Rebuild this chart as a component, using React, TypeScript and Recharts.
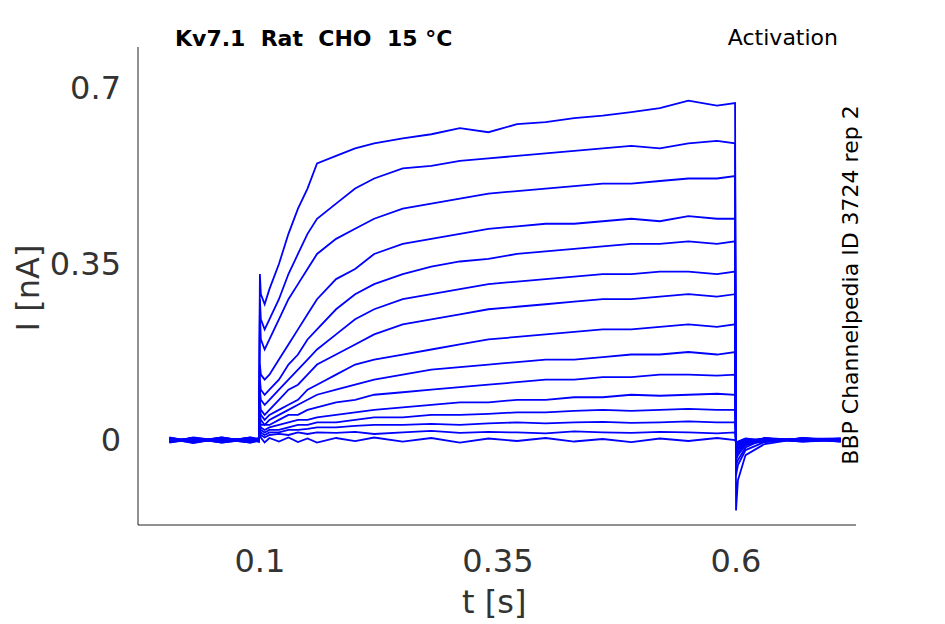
import { LineChart, Line, XAxis, YAxis } from "recharts";

const times = [
  0.005, 0.03, 0.06, 0.09, 0.099, 0.1, 0.101, 0.105, 0.11, 0.12, 0.13, 0.14, 0.15, 0.16, 0.18, 0.2, 0.22, 0.25,
  0.28, 0.31, 0.34, 0.37, 0.4, 0.43, 0.46, 0.49, 0.52, 0.55, 0.58, 0.599, 0.6, 0.602, 0.61, 0.63, 0.67, 0.71,
];

const traces: number[][] = [
  [0.003, -0.006, 0.004, -0.003, 0.001, 0.33, 0.29, 0.27, 0.3, 0.35, 0.41, 0.46, 0.5, 0.55, 0.565, 0.58, 0.59, 0.6, 0.608, 0.62, 0.612, 0.628, 0.632, 0.64, 0.645, 0.652, 0.66, 0.675, 0.665, 0.67, -0.14, -0.08, -0.03, -0.008, 0.004, -0.002],
  [-0.004, 0.005, -0.002, 0.004, -0.001, 0.28, 0.24, 0.22, 0.24, 0.28, 0.33, 0.37, 0.41, 0.44, 0.47, 0.5, 0.52, 0.54, 0.545, 0.555, 0.56, 0.565, 0.57, 0.575, 0.58, 0.585, 0.58, 0.59, 0.595, 0.59, -0.07, -0.05, -0.02, -0.004, 0.003, 0.001],
  [0.002, -0.003, 0.005, -0.004, 0.002, 0.25, 0.2, 0.18, 0.2, 0.24, 0.28, 0.31, 0.34, 0.37, 0.4, 0.42, 0.44, 0.46, 0.47, 0.48, 0.49, 0.495, 0.5, 0.505, 0.51, 0.51, 0.515, 0.52, 0.52, 0.525, -0.05, -0.04, -0.015, 0.003, -0.003, 0.002],
  [-0.003, 0.004, -0.005, 0.002, 0.0, 0.15, 0.13, 0.12, 0.13, 0.16, 0.19, 0.22, 0.25, 0.28, 0.32, 0.34, 0.37, 0.39, 0.4, 0.41, 0.42, 0.425, 0.43, 0.43, 0.435, 0.44, 0.435, 0.445, 0.44, 0.44, -0.04, -0.03, -0.01, 0.002, -0.002, 0.003],
  [0.004, -0.002, 0.002, -0.005, 0.001, 0.12, 0.1, 0.09, 0.1, 0.12, 0.15, 0.17, 0.2, 0.22, 0.26, 0.29, 0.31, 0.33, 0.345, 0.355, 0.36, 0.37, 0.375, 0.38, 0.385, 0.39, 0.39, 0.395, 0.39, 0.395, -0.035, -0.025, -0.01, -0.002, 0.003, -0.001],
  [-0.002, 0.003, -0.004, 0.005, -0.002, 0.1, 0.08, 0.07, 0.08, 0.1, 0.12, 0.14, 0.16, 0.18, 0.21, 0.24, 0.26, 0.28, 0.29, 0.3, 0.31, 0.315, 0.32, 0.325, 0.33, 0.33, 0.335, 0.335, 0.33, 0.335, -0.03, -0.02, -0.008, 0.003, -0.002, 0.002],
  [0.005, -0.004, 0.003, -0.002, 0.003, 0.08, 0.06, 0.05, 0.06, 0.08, 0.1, 0.11, 0.13, 0.15, 0.17, 0.19, 0.21, 0.23, 0.24, 0.25, 0.26, 0.265, 0.27, 0.275, 0.28, 0.28, 0.285, 0.29, 0.285, 0.29, -0.025, -0.018, -0.006, -0.003, 0.002, -0.003],
  [-0.005, 0.002, -0.003, 0.004, -0.001, 0.06, 0.05, 0.04, 0.05, 0.06, 0.07, 0.08, 0.1, 0.11, 0.13, 0.15, 0.16, 0.17, 0.18, 0.19, 0.2, 0.205, 0.21, 0.215, 0.22, 0.22, 0.225, 0.23, 0.225, 0.23, -0.02, -0.015, -0.005, 0.004, -0.001, 0.002],
  [0.002, -0.005, 0.004, -0.003, 0.002, 0.05, 0.04, 0.03, 0.04, 0.05, 0.06, 0.07, 0.08, 0.09, 0.1, 0.11, 0.12, 0.13, 0.14, 0.145, 0.15, 0.155, 0.16, 0.16, 0.165, 0.17, 0.17, 0.175, 0.17, 0.175, -0.018, -0.012, -0.004, -0.002, 0.003, -0.001],
  [-0.003, 0.004, -0.002, 0.003, -0.004, 0.04, 0.03, 0.03, 0.03, 0.04, 0.05, 0.05, 0.06, 0.065, 0.075, 0.08, 0.09, 0.095, 0.1, 0.105, 0.11, 0.115, 0.12, 0.12, 0.125, 0.125, 0.13, 0.13, 0.128, 0.13, -0.015, -0.01, -0.003, 0.003, -0.002, 0.001],
  [0.004, -0.003, 0.005, -0.004, 0.001, 0.03, 0.025, 0.02, 0.025, 0.03, 0.035, 0.04, 0.04, 0.045, 0.05, 0.055, 0.06, 0.065, 0.07, 0.075, 0.075, 0.08, 0.08, 0.085, 0.085, 0.09, 0.088, 0.09, 0.092, 0.09, -0.012, -0.008, -0.002, -0.003, 0.002, 0.003],
  [-0.002, 0.003, -0.005, 0.002, 0.003, 0.025, 0.02, 0.015, 0.02, 0.02, 0.025, 0.03, 0.03, 0.035, 0.035, 0.04, 0.045, 0.045, 0.05, 0.05, 0.052, 0.055, 0.055, 0.058, 0.06, 0.058, 0.06, 0.062, 0.06, 0.06, -0.01, -0.006, -0.002, 0.002, -0.003, 0.0],
  [0.003, -0.004, 0.002, -0.005, -0.002, 0.02, 0.015, 0.01, 0.015, 0.015, 0.02, 0.02, 0.022, 0.025, 0.025, 0.028, 0.03, 0.03, 0.032, 0.03, 0.033, 0.035, 0.033, 0.035, 0.036, 0.034, 0.035, 0.037, 0.035, 0.035, -0.008, -0.005, -0.001, 0.003, -0.002, 0.002],
  [-0.004, 0.002, -0.003, 0.005, 0.002, 0.015, 0.01, 0.005, 0.01, 0.012, 0.01, 0.015, 0.012, 0.015, 0.014, 0.016, 0.012, 0.015, 0.018, 0.014, 0.016, 0.015, 0.013, 0.017, 0.015, 0.014, 0.016, 0.015, 0.013, 0.015, -0.006, -0.004, 0.002, -0.002, 0.003, -0.002],
  [0.001, -0.003, 0.004, -0.002, 0.004, 0.01, 0.005, -0.005, 0.004, -0.003, 0.005, -0.004, 0.003, -0.005, 0.004, -0.002, 0.005, -0.003, 0.004, -0.005, 0.003, -0.002, 0.004, -0.003, 0.002, -0.004, 0.003, -0.002, 0.004, 0.0, -0.005, -0.003, 0.003, -0.001, 0.002, -0.003],
];

const xTicks = [0.1, 0.35, 0.6];
const yTicks = [0, 0.35, 0.7];

const data = times.map((t, i) => {
  const row: Record<string, number> = { t };
  traces.forEach((tr, k) => (row["s" + k] = tr[i]));
  return row;
});

const tickStyle = { fill: "#333", fontSize: 32, fontFamily: "DejaVu Sans" };

export default function App() {
  return (
    <div style={{ position: "absolute", left: 0, top: 0, width: 945, height: 624, background: "#fff", fontFamily: "DejaVu Sans" }}>
      <LineChart width={945} height={624} data={data} margin={{ top: 47, right: 89, left: 78, bottom: 39 }}>
        <XAxis
          dataKey="t"
          type="number"
          domain={[-0.028, 0.726]}
          ticks={xTicks}
          tickFormatter={(v) => String(v)}
          height={60}
          tickLine={false}
          tickMargin={18}
          stroke="#222"
          tick={tickStyle}
          allowDataOverflow
        />
        <YAxis
          type="number"
          domain={[-0.169, 0.7815]}
          ticks={yTicks}
          tickFormatter={(v) => String(v)}
          width={60}
          tickLine={false}
          tickMargin={11}
          stroke="#222"
          tick={tickStyle}
          allowDataOverflow
        />
        {traces.map((_, k) => (
          <Line key={k} dataKey={"s" + k} type="linear" stroke="#0000ff" strokeWidth={1.8} dot={false} isAnimationActive={false} />
        ))}
      </LineChart>
      <div style={{ position: "absolute", left: 175, top: 26, fontSize: 22, fontWeight: "bold" }}>Kv7.1&nbsp; Rat&nbsp; CHO&nbsp; 15 °C</div>
      <div style={{ position: "absolute", right: 107, top: 25, fontSize: 22 }}>Activation</div>
      <div style={{ position: "absolute", left: 462, top: 583, fontSize: 32, color: "#333" }}>t [s]</div>
      <div style={{ position: "absolute", left: 28, top: 288, fontSize: 32, color: "#333", transform: "translate(-50%,-50%) rotate(-90deg)", whiteSpace: "nowrap" }}>I [nA]</div>
      <div style={{ position: "absolute", left: 850, top: 285, fontSize: 22, transform: "translate(-50%,-50%) rotate(-90deg)", whiteSpace: "nowrap" }}>BBP Channelpedia ID 3724 rep 2</div>
    </div>
  );
}
